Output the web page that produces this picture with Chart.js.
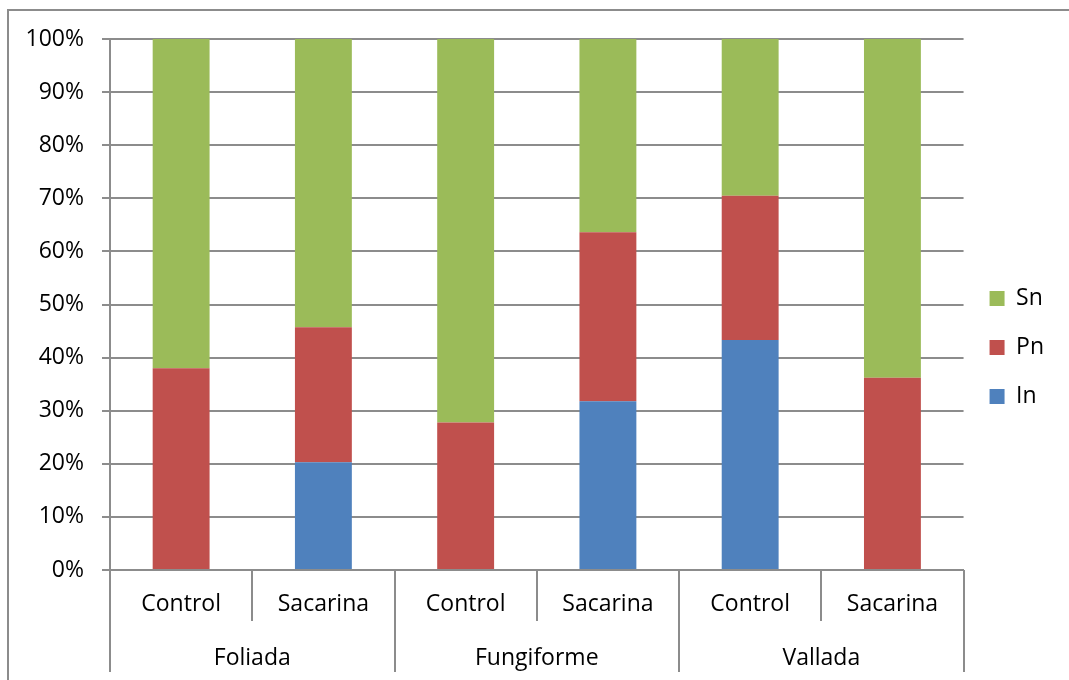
<!DOCTYPE html>
<html>
<head>
<meta charset="utf-8">
<script src="https://cdn.jsdelivr.net/npm/chart.js@4.4.1/dist/chart.umd.min.js"></script>
<style>
    html, body { margin: 0; padding: 0; background: #fff; overflow: hidden; }
    #marco {
        position: absolute; left: 7px; top: 9px;
        width: 1200px; height: 800px;
        border: 2px solid #8c8c8c;
    }
    #caja { position: absolute; left: 0; top: 0; width: 1069px; height: 680px; }
</style>
</head>
<body>
<div id="marco"></div>
<div id="caja"><canvas id="graficoPapilas"></canvas></div>
<script>
// Tipos de papila y tratamiento
const grupos = ["Foliada", "Fungiforme", "Vallada"];
const tratamientos = ["Control", "Sacarina", "Control", "Sacarina", "Control", "Sacarina"];

// Porcentaje de cada respuesta
const valoresIn = [0, 20.3, 0, 31.8, 43.3, 0];
const valoresPn = [38.0, 25.4, 27.8, 31.8, 27.2, 36.2];
const valoresSn = [62.0, 54.3, 72.2, 36.4, 29.5, 63.8];

const marcasY = [0, 10, 20, 30, 40, 50, 60, 70, 80, 90, 100];

const gris = "#8c8c8c";
const fuente = { family: "'Open Sans', 'Noto Sans', sans-serif", size: 23 };

// Líneas separadoras del eje de categorías
const separadores = {
    id: "separadores",
    afterDraw(chart) {
        const x = chart.scales.x;
        const ctx = chart.ctx;
        const base = chart.chartArea.bottom;
        ctx.save();
        ctx.strokeStyle = gris;
        ctx.lineWidth = 2;
        for (let i = 0; i <= tratamientos.length; i++) {
            const px = Math.round(x.getPixelForValue(i - 0.5));
            const fin = i % 2 === 0 ? 672 : 621;
            ctx.beginPath();
            ctx.moveTo(px, base);
            ctx.lineTo(px, fin);
            ctx.stroke();
        }
        ctx.restore();
    }
};

new Chart(document.getElementById("graficoPapilas"), {
    type: "bar",
    data: {
        labels: tratamientos,
        datasets: [
            { label: "In", data: valoresIn, backgroundColor: "#4f81bd" },
            { label: "Pn", data: valoresPn, backgroundColor: "#c0504d" },
            { label: "Sn", data: valoresSn, backgroundColor: "#9bbb59" }
        ]
    },
    options: {
        responsive: true,
        maintainAspectRatio: false,
        animation: false,
        datasets: { bar: { barPercentage: 0.4, categoryPercentage: 1 } },
        layout: { padding: { top: 15, left: 0, right: 15, bottom: 0 } },
        plugins: {
            // espacio superior solo sobre el área del gráfico
            title: {
                display: true,
                text: "",
                fullSize: false,
                padding: 0,
                font: { size: 20, lineHeight: 1.2 }
            },
            legend: {
                position: "right",
                reverse: true,
                labels: {
                    color: "#000",
                    font: fuente,
                    boxWidth: 15,
                    boxHeight: 15,
                    padding: 26
                }
            },
            tooltip: { enabled: false }
        },
        scales: {
            x: {
                stacked: true,
                grid: { display: false, drawTicks: false },
                border: { display: true, color: gris, width: 2 },
                ticks: { color: "#000", font: fuente, padding: 21, maxRotation: 0 },
                afterFit(scale) { scale.height = 52; }
            },
            x2: {
                type: "category",
                labels: grupos,
                position: "bottom",
                offset: true,
                grid: { display: false, drawTicks: false },
                border: { display: false },
                ticks: { color: "#000", font: fuente, padding: 23, maxRotation: 0 },
                afterFit(scale) { scale.height = 58; }
            },
            y: {
                stacked: true,
                min: 0,
                max: 100,
                afterBuildTicks(scale) {
                    scale.ticks = marcasY.map(v => ({ value: v }));
                },
                ticks: {
                    color: "#000",
                    font: fuente,
                    padding: 18,
                    callback: v => v + "%"
                },
                grid: { color: gris, lineWidth: 2, tickLength: 8 },
                border: { color: gris, width: 2 },
                afterFit(scale) { scale.width = 110; }
            }
        }
    },
    plugins: [separadores]
});
</script>
</body>
</html>
